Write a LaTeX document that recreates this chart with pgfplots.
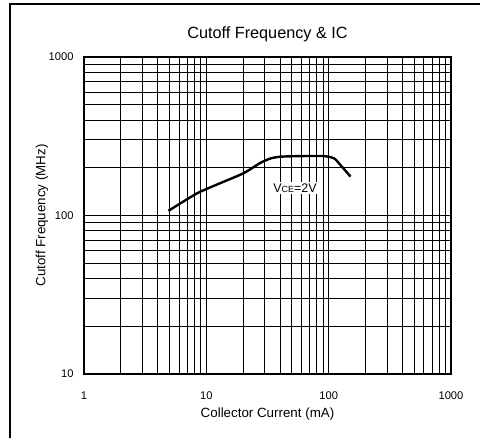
\documentclass[border=0pt]{standalone}
\usepackage{fontspec}
\setmainfont{Liberation Sans}
\usepackage{pgfplots}
\pgfplotsset{compat=1.18}

\begin{document}
\begin{tikzpicture}
% page = 480x438, axis box from pixel (84,57) to (451,374)
\path[use as bounding box] (-84bp,-64bp) rectangle (396bp,374bp);
\draw[line width=2bp] (-74bp,-70bp) -- (-74bp,370bp) -- (400bp,370bp);
\begin{axis}[
    at={(0,0)}, anchor=south west,
    scale only axis,
    width=367bp, height=317bp,
    xmode=log, ymode=log,
    xmin=1, xmax=1000,
    ymin=10, ymax=1000,
    xtick={1,10,100,1000},
    xticklabels={1,10,100,1000},
    ytick={10,100,1000},
    yticklabels={10,100,1000},
    minor xtick={2,3,...,9,20,30,...,90,200,300,...,900},
    minor ytick={20,30,...,90,200,300,...,900},
    major tick length=0pt, minor tick length=0pt,
    grid=both,
    major grid style={black, line width=0.8bp},
    minor grid style={black, line width=0.8bp},
    axis line style={black, line width=1.6bp},
    tick label style={font=\fontsize{11.2}{13}\selectfont},
    xticklabel style={yshift=-14bp},
    yticklabel style={xshift=-7bp},
    title={Cutoff Frequency \& IC},
    title style={at={([yshift=17bp]axis description cs:0.5,1)}, anchor=center, font=\fontsize{16.3}{19}\selectfont},
    xlabel={Collector Current (mA)},
    xlabel style={at={([yshift=-40bp]axis description cs:0.5,0)}, anchor=center, font=\fontsize{13.4}{16}\selectfont},
    ylabel={Cutoff Frequency (MHz)},
    ylabel style={at={([xshift=-42bp]axis description cs:0,0.5)}, anchor=center, font=\fontsize{13.4}{16}\selectfont},
]
\addplot[black, line width=2.4bp, smooth, tension=0.4] coordinates {
    (4.9,107)(8.4,138)(13.0,160)(20.2,185)(27.7,215)(33.5,229)(40.4,235)
    (58.9,237)(91.5,237)(111,229)(125,208)(151,176)
};
\node[fill=white, inner sep=1.5bp, font=\fontsize{12.5}{14}\selectfont]
    at (axis cs:53,149) {V{\fontsize{9}{10}\selectfont\raisebox{-0.5bp}{CE}}=2V};
\end{axis}
\end{tikzpicture}
\end{document}
